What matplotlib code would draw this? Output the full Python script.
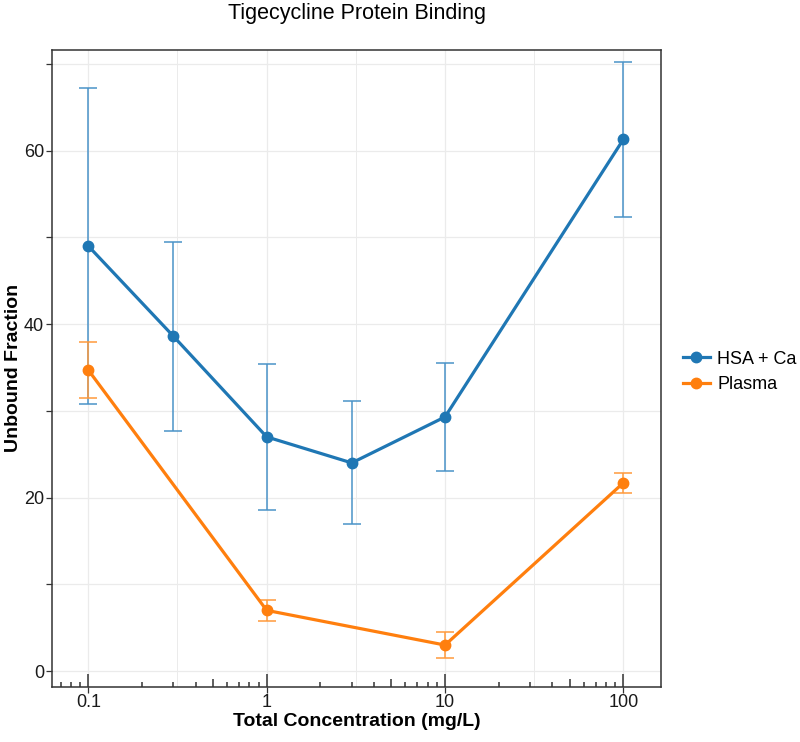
import numpy as np
import matplotlib
matplotlib.use("Agg")
import matplotlib.pyplot as plt
import matplotlib.transforms as mtransforms

plt.rcParams["font.family"] = ["Liberation Sans", "DejaVu Sans"]

# concentrations (mg/L)
hsa_conc = [0.1, 0.3, 1, 3, 10, 100]
hsa_mean = [49.0, 38.6, 27.0, 24.0, 29.3, 61.3]
hsa_sd = [18.2, 10.9, 8.4, 7.1, 6.2, 8.9]

plasma_conc = [0.1, 1, 10, 100]
plasma_mean = [34.7, 7.0, 3.0, 21.7]
plasma_sd = [3.2, 1.2, 1.45, 1.15]

SERIES = [
    ("HSA + Ca", hsa_conc, hsa_mean, hsa_sd, "#1F77B4", "#4A93C8"),
    ("Plasma", plasma_conc, plasma_mean, plasma_sd, "#FF7F0E", "#FF9A3C"),
]

title = "Tigecycline Protein Binding"
xlabel = "Total Concentration (mg/L)"
ylabel = "Unbound Fraction"
x_breaks = [0.1, 1, 10, 100]
x_labels = ["0.1", "1", "10", "100"]
y_breaks = [0, 10, 20, 30, 40, 50, 60, 70]
y_labels = ["0", "", "20", "", "40", "", "60", ""]

W, H = 800, 742
P_LEFT, P_RIGHT, P_TOP, P_BOTTOM = 52.3, 661, 50, 686.7
fig = plt.figure(figsize=(W / 100, H / 100), dpi=100)
ax = fig.add_axes([P_LEFT / W, 1 - P_BOTTOM / H, (P_RIGHT - P_LEFT) / W,
                   (P_BOTTOM - P_TOP) / H])
panel_w = P_RIGHT - P_LEFT
panel_h = P_BOTTOM - P_TOP

grid_col = "#EBEBEB"
for v in y_breaks:
    ax.axhline(v, color=grid_col, lw=0.9, zorder=0)
for v in x_breaks:
    ax.axvline(v, color=grid_col, lw=0.9, zorder=0)
for v in [10 ** -0.5, 10 ** 0.5, 10 ** 1.5]:
    ax.axvline(v, color=grid_col, lw=0.7, zorder=0)

for name, xs, ys, sd, col, ecol in SERIES:
    ax.errorbar(xs, ys, yerr=sd, fmt="none", ecolor=ecol, elinewidth=1.1,
                capsize=6.3, capthick=1.1, zorder=2)
    ax.plot(xs, ys, color=col, lw=2.3, marker="o", ms=7.5, label=name, zorder=3)

ax.set_xscale("log")
xlo, xhi = 10 ** -1.202, 10 ** 2.211
ax.set_xlim(xlo, xhi)
ax.set_ylim(-1.8, 71.6)

# log ticks inside the bottom of the panel
trans = mtransforms.blended_transform_factory(ax.transData, ax.transAxes)
for dec in [0.01, 0.1, 1, 10, 100]:
    for k in range(1, 10):
        v = dec * k
        if not (xlo <= v <= xhi):
            continue
        L = 13 if k == 1 else (8 if k == 5 else 4.5)
        ax.plot([v, v], [0, L / panel_h], transform=trans, color="#333333",
                lw=1.1, solid_capstyle="butt", clip_on=False, zorder=4)

ax.set_xticks(x_breaks)
ax.set_xticklabels(x_labels)
ax.xaxis.set_minor_locator(matplotlib.ticker.NullLocator())
ax.set_yticks(y_breaks)
ax.set_yticklabels(y_labels)
ax.tick_params(axis="both", direction="out", length=4, width=0.9,
               color="#333333", labelsize=13, labelcolor="#1A1A1A", pad=2)
ax.tick_params(axis="x", pad=1)

for s in ax.spines.values():
    s.set_color("#333333")
    s.set_linewidth(1.1)

fig.text((P_LEFT + P_RIGHT) / 2 / W, 1 - 13 / H, title, fontsize=15.5,
         ha="center", va="center")
ax.set_xlabel(xlabel, fontsize=14, fontweight="bold", va="center")
ax.xaxis.set_label_coords(0.5, -(722 - P_BOTTOM) / panel_h)
ax.set_ylabel(ylabel, fontsize=14, fontweight="bold", va="center")
ax.yaxis.set_label_coords(-(P_LEFT - 14) / panel_w, 0.5)

leg = ax.legend(loc="center left", bbox_to_anchor=(1.036, 0.4945), frameon=False,
                fontsize=13, handlelength=1.5, handletextpad=0.4, labelspacing=0.45,
                borderaxespad=0, borderpad=0)

fig.savefig("out.png", dpi=100)
